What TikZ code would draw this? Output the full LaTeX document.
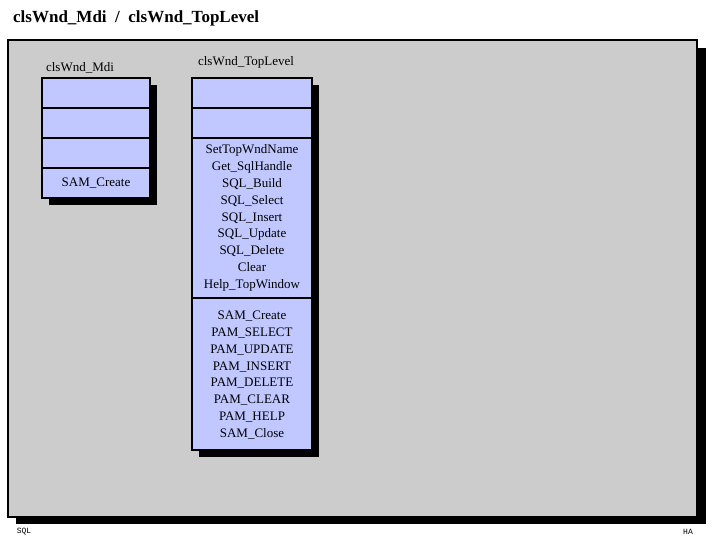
\documentclass[tikz,border=0pt]{standalone}
\usepackage{fontspec}
\setmainfont{Liberation Serif}
\setmonofont{Liberation Mono}
\definecolor{panelgrey}{RGB}{204,204,204}
\definecolor{cellblue}{RGB}{192,200,255}
\begin{document}
\begin{tikzpicture}[x=1pt,y=-1pt,
  cell/.style={draw=black,line width=1.6pt,fill=cellblue},
  shadow/.style={fill=black},
  item/.style={font=\fontsize{13}{16.8}\selectfont,align=center,inner sep=0pt},
  lbl/.style={font=\fontsize{13}{15}\selectfont,inner sep=0pt}]
\useasboundingbox[fill=white] (0,0) rectangle (720,540);
% panel
\fill[shadow] (16,48) rectangle (706,524);
\draw[fill=panelgrey,line width=1.6pt] (8,40) rectangle (697,517);
\node[font=\bfseries\fontsize{17}{20}\selectfont,anchor=west,inner sep=0pt] (title) at (13,18) {clsWnd\_Mdi \ / \ clsWnd\_TopLevel};
% left class
\node[lbl] (lt) at (80,68) {clsWnd\_Mdi};
\fill[shadow] (49,85) rectangle (157,205);
\draw[cell] (42,78) rectangle (150,108);
\draw[cell] (42,108) rectangle (150,138);
\draw[cell] (42,138) rectangle (150,168);
\draw[cell] (42,168) rectangle (150,198);
\node[item] (l4) at (96,183) {SAM\_Create};
% right class
\node[lbl] (rt) at (246,62) {clsWnd\_TopLevel};
\fill[shadow] (199,85) rectangle (319,457);
\draw[cell] (192,78) rectangle (312,108);
\draw[cell] (192,108) rectangle (312,138);
\draw[cell] (192,138) rectangle (312,298);
\draw[cell] (192,298) rectangle (312,450);
\node[item] (r3) at (252,218) {SetTopWndName\\Get\_SqlHandle\\SQL\_Build\\SQL\_Select\\SQL\_Insert\\SQL\_Update\\SQL\_Delete\\Clear\\Help\_TopWindow};
\node[item] (r4) at (252,375) {SAM\_Create\\PAM\_SELECT\\PAM\_UPDATE\\PAM\_INSERT\\PAM\_DELETE\\PAM\_CLEAR\\PAM\_HELP\\SAM\_Close};
% footer
\node[font=\ttfamily\fontsize{8}{9}\selectfont,inner sep=0pt] (fl) at (24,532) {SQL};
\node[font=\ttfamily\fontsize{8}{9}\selectfont,inner sep=0pt] (fr) at (688,532) {HA};
\end{tikzpicture}
\end{document}
